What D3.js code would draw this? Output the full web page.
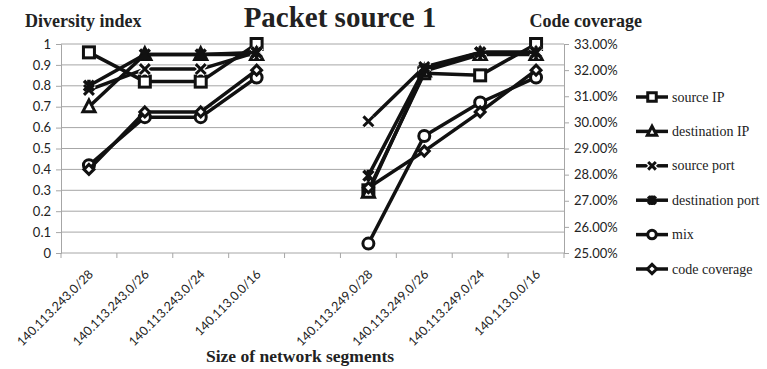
<!DOCTYPE html>
<html>
<head>
<meta charset="utf-8">
<script src="https://cdn.jsdelivr.net/npm/d3@7"></script>
<style>
  html, body { margin: 0; padding: 0; background: #fff; }
  svg { display: block; }
</style>
</head>
<body>
<svg id="chart" width="767" height="369"></svg>
<script>
// Network segment categories; the empty slot separates the two experiment groups
const categories = [
  "140.113.243.0/28", "140.113.243.0/26", "140.113.243.0/24", "140.113.0.0/16",
  "",
  "140.113.249.0/28", "140.113.249.0/26", "140.113.249.0/24", "140.113.0.0/16"
];

// Diversity index series (left axis); null = no value for the spacer slot
const sourceIP        = [0.96, 0.82, 0.82, 1.00, null, 0.30, 0.86, 0.85, 1.00];
const destinationIP   = [0.70, 0.95, 0.95, 0.95, null, 0.29, 0.87, 0.95, 0.95];
const sourcePort      = [0.78, 0.88, 0.88, 0.96, null, 0.63, 0.89, 0.96, 0.96];
const destinationPort = [0.80, 0.95, 0.95, 0.96, null, 0.37, 0.88, 0.96, 0.96];
const mix             = [0.42, 0.65, 0.65, 0.84, null, 0.045, 0.56, 0.72, 0.84];

// Code coverage in percent (right axis)
const codeCoverage    = [28.2, 30.4, 30.4, 32.0, null, 27.5, 28.9, 30.4, 32.0];

const leftTicks  = [0, 0.1, 0.2, 0.3, 0.4, 0.5, 0.6, 0.7, 0.8, 0.9, 1];
const rightTicks = [25, 26, 27, 28, 29, 30, 31, 32, 33];

const seriesDefs = [
  { name: "source IP",        values: sourceIP,        marker: "square",   axis: "left" },
  { name: "destination IP",   values: destinationIP,   marker: "triangle", axis: "left" },
  { name: "source port",      values: sourcePort,      marker: "x",        axis: "left" },
  { name: "destination port", values: destinationPort, marker: "star",     axis: "left" },
  { name: "mix",              values: mix,             marker: "circle",   axis: "left" },
  { name: "code coverage",    values: codeCoverage,    marker: "diamond",  axis: "right" }
];

const svg = d3.select("#chart");
const plot = { left: 61, right: 564, top: 44, bottom: 253 };
const gridColor = "#a6a6a6";
const sansFont = "Lato, 'Open Sans', sans-serif";
const serifFont = "'Liberation Serif', 'DejaVu Serif', serif";

const x = d3.scaleBand().domain(d3.range(categories.length))
  .range([plot.left, plot.right]).paddingInner(0).paddingOuter(0);
const yL = d3.scaleLinear().domain([0, 1]).range([plot.bottom, plot.top]);
const yR = d3.scaleLinear().domain([25, 33]).range([plot.bottom, plot.top]);
const cx = i => x(i) + x.bandwidth() / 2;

// Horizontal gridlines
svg.append("g").selectAll("line").data(leftTicks.slice(1)).join("line")
  .attr("x1", plot.left).attr("x2", plot.right)
  .attr("y1", d => yL(d)).attr("y2", d => yL(d))
  .attr("stroke", gridColor).attr("stroke-width", 1);

// Left axis
const leftAxis = svg.append("g").attr("transform", `translate(${plot.left},0)`)
  .call(d3.axisLeft(yL).tickValues(leftTicks).tickSize(5).tickPadding(5)
    .tickFormat(d => d3.format("")(+d.toFixed(1))));
leftAxis.select(".domain").attr("stroke", gridColor);
leftAxis.selectAll(".tick line").attr("stroke", gridColor);
leftAxis.selectAll("text").attr("font-family", sansFont).attr("font-size", 13).attr("fill", "#222");

// Right axis
const rightAxis = svg.append("g").attr("transform", `translate(${plot.right},0)`)
  .call(d3.axisRight(yR).tickValues(rightTicks).tickSize(5).tickPadding(5)
    .tickFormat(d => d.toFixed(2) + "%"));
rightAxis.select(".domain").attr("stroke", gridColor);
rightAxis.selectAll(".tick line").attr("stroke", gridColor);
rightAxis.selectAll("text").attr("font-family", sansFont).attr("font-size", 13).attr("fill", "#222");

// Bottom axis: tick marks on category boundaries
const bottom = svg.append("g");
bottom.append("line").attr("x1", plot.left).attr("x2", plot.right)
  .attr("y1", plot.bottom).attr("y2", plot.bottom).attr("stroke", gridColor);
bottom.selectAll("line.tk").data(d3.range(categories.length + 1)).join("line")
  .attr("class", "tk")
  .attr("x1", i => i < categories.length ? x(i) : plot.right)
  .attr("x2", i => i < categories.length ? x(i) : plot.right)
  .attr("y1", plot.bottom).attr("y2", plot.bottom + 5).attr("stroke", gridColor);
bottom.selectAll("text").data(categories).join("text")
  .attr("transform", (d, i) => `translate(${cx(i) + 5},${plot.bottom + 22}) rotate(-45)`)
  .attr("text-anchor", "end")
  .attr("font-family", sansFont).attr("font-size", 12.5).attr("fill", "#222")
  .text(d => d);

// Marker drawing
function drawMarker(g, type, size) {
  const s = size;
  if (type === "square") {
    g.append("rect").attr("x", -s / 2).attr("y", -s / 2).attr("width", s).attr("height", s)
      .attr("fill", "#fff").attr("stroke", "#111").attr("stroke-width", 3);
  } else if (type === "triangle") {
    g.append("path").attr("d", `M0,${-s * 0.6}L${s * 0.55},${s * 0.45}L${-s * 0.55},${s * 0.45}Z`)
      .attr("fill", "#fff").attr("stroke", "#111").attr("stroke-width", 3).attr("stroke-linejoin", "miter");
  } else if (type === "circle") {
    g.append("circle").attr("r", s / 2).attr("fill", "#fff").attr("stroke", "#111").attr("stroke-width", 3);
  } else if (type === "diamond") {
    const r = s * 0.55;
    g.append("path").attr("d", `M0,${-r}L${r},0L0,${r}L${-r},0Z`)
      .attr("fill", "#fff").attr("stroke", "#111").attr("stroke-width", 3);
  } else if (type === "x") {
    const r = s * 0.45;
    const p = `M${-r},${-r}L${r},${r}M${r},${-r}L${-r},${r}`;
    g.append("path").attr("d", p).attr("stroke", "#fff").attr("stroke-width", 5.5);
    g.append("path").attr("d", p).attr("stroke", "#111").attr("stroke-width", 3);
  } else if (type === "star") {
    const r = s * 0.45;
    const p = `M${-r},${-r}L${r},${r}M${r},${-r}L${-r},${r}M0,${-r - 1}L0,${r + 1}`;
    g.append("path").attr("d", p).attr("stroke", "#111").attr("stroke-width", 3.5);
  }
}

// Series lines and markers
const seriesLayer = svg.append("g");
seriesDefs.forEach(sd => {
  const y = sd.axis === "left" ? yL : yR;
  const pts = sd.values.map((v, i) => ({ i, v }));
  const line = d3.line().defined(d => d.v !== null).x(d => cx(d.i)).y(d => y(d.v));
  seriesLayer.append("path").datum(pts).attr("d", line)
    .attr("fill", "none").attr("stroke", "#111").attr("stroke-width", 3.5)
    .attr("stroke-linejoin", "round");
  pts.filter(d => d.v !== null).forEach(d => {
    const g = seriesLayer.append("g").attr("transform", `translate(${cx(d.i)},${y(d.v)})`);
    drawMarker(g, sd.marker, sd.marker === "diamond" ? 9 : 11);
  });
});

// Legend
const legend = svg.append("g");
seriesDefs.forEach((sd, k) => {
  const ly = 97 + k * 34.4;
  legend.append("line").attr("x1", 636).attr("x2", 668).attr("y1", ly).attr("y2", ly)
    .attr("stroke", "#111").attr("stroke-width", 3.5);
  const g = legend.append("g").attr("transform", `translate(652,${ly})`);
  drawMarker(g, sd.marker, 8.5);
  legend.append("text").attr("x", 672).attr("y", ly + 4.5)
    .attr("font-family", serifFont).attr("font-size", 14).attr("fill", "#222")
    .text(sd.name);
});

// Titles
svg.append("text").attr("x", 340).attr("y", 27).attr("text-anchor", "middle")
  .attr("font-family", serifFont).attr("font-weight", "bold").attr("font-size", 29)
  .attr("fill", "#222").text("Packet source 1");
svg.append("text").attr("x", 25).attr("y", 27)
  .attr("font-family", serifFont).attr("font-weight", "bold").attr("font-size", 18)
  .attr("fill", "#222").text("Diversity index");
svg.append("text").attr("x", 642).attr("y", 27).attr("text-anchor", "end")
  .attr("font-family", serifFont).attr("font-weight", "bold").attr("font-size", 18)
  .attr("fill", "#222").text("Code coverage");
svg.append("text").attr("x", 300).attr("y", 362).attr("text-anchor", "middle")
  .attr("font-family", serifFont).attr("font-weight", "bold").attr("font-size", 17.5)
  .attr("fill", "#222").text("Size of network segments");
</script>
</body>
</html>
